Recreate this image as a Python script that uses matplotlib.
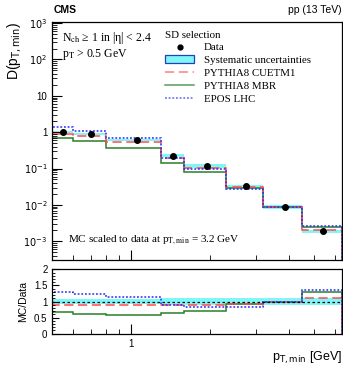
import numpy as np
import matplotlib
matplotlib.use("Agg")
import matplotlib.pyplot as plt
from matplotlib.lines import Line2D
from matplotlib.patches import Patch
from matplotlib.ticker import FixedLocator, NullFormatter, LogLocator, MultipleLocator

# bin edges in pT,min (GeV) and data points
edges = np.array([0.5, 0.6, 0.8, 1.3, 1.6, 2.3, 3.2, 4.5, 6.4])
pt_data = np.array([0.547, 0.70, 1.05, 1.45, 1.95, 2.76, 3.87, 5.41])
d_data = np.array([1.04, 0.90, 0.61, 0.224, 0.117, 0.0324, 0.0086, 0.00187])
syst = np.array([0.07, 0.07, 0.07, 0.10, 0.12, 0.12, 0.12, 0.12])

# MC / data ratios per bin
r_cuetm1 = np.array([0.88, 0.90, 0.90, 0.88, 0.89, 0.93, 1.0, 1.11])
r_mbr = np.array([0.66, 0.62, 0.59, 0.64, 0.70, 0.92, 1.0, 1.30])
r_epos = np.array([1.30, 1.22, 1.13, 0.89, 0.83, 0.82, 1.0, 1.36])

c_band = "#80f6f6"
c_red = "#ff4a4a"
c_green = "#2a7f2a"
c_blue = "#2828ff"
serif = ["Liberation Serif", "DejaVu Serif"]
sans = ["Liberation Sans", "DejaVu Sans"]

fig = plt.figure(figsize=(3.43, 3.67), dpi=100)
ax = fig.add_axes([0.1525, 0.2902, 0.8446, 0.6507])
axr = fig.add_axes([0.1525, 0.0907, 0.8446, 0.1755])

# ---- top panel
for i in range(len(d_data)):
    ax.fill_between([edges[i], edges[i + 1]], d_data[i] * (1 - syst[i]), d_data[i] * (1 + syst[i]),
                    color=c_band, lw=0)
ax.stairs(d_data * r_mbr, edges, color=c_green, lw=1.1)
ax.stairs(d_data * r_cuetm1, edges, color=c_red, lw=1.1, ls=(0, (6, 3)))
ax.stairs(d_data * r_epos, edges, color=c_blue, lw=1.1, ls=(0, (1.2, 1.2)))
ax.plot(pt_data, d_data, "o", color="black", ms=4)

ax.set_xscale("log")
ax.set_yscale("log")
ax.set_xlim(0.5, 6.4)
ax.set_ylim(10 ** -3.53, 10 ** 3.04)
ax.yaxis.set_major_locator(FixedLocator([1e-3, 1e-2, 1e-1, 1, 10, 1e2, 1e3]))
ax.set_yticklabels(["$10^{-3}$", "$10^{-2}$", "$10^{-1}$", "1", "10", "$10^{2}$", "$10^{3}$"],
                   family=sans)
ax.yaxis.set_minor_locator(LogLocator(base=10, subs=np.arange(2, 10), numticks=20))
ax.yaxis.set_minor_formatter(NullFormatter())

for a in (ax, axr):
    a.xaxis.set_major_locator(FixedLocator([1]))
    a.xaxis.set_minor_locator(FixedLocator([0.6, 0.7, 0.8, 0.9, 2, 3, 4, 5, 6]))
    a.xaxis.set_minor_formatter(NullFormatter())
    a.tick_params(which="both", direction="in", top=False, right=False, labelsize=7)
    a.tick_params(which="major", length=7, width=0.8)
    a.tick_params(which="minor", length=3.5, width=0.6)
    for s in a.spines.values():
        s.set_linewidth(0.9)
ax.tick_params(axis="x", which="major", labelbottom=False)

ax.set_ylabel("D(p$_{\\mathrm{T,min}}$)", family=sans, fontsize=10, loc="top", labelpad=0)

ax.text(0.035, 0.965, "N$_{\\mathrm{ch}}$ \u2265 1 in |\u03b7| < 2.4", transform=ax.transAxes,
        family=serif, math_fontfamily="stix", fontsize=8.5, va="top")
ax.text(0.035, 0.895, "p$_{\\mathrm{T}}$ > 0.5 GeV", transform=ax.transAxes,
        family=serif, math_fontfamily="stix", fontsize=8.5, va="top")
ax.text(0.055, 0.085, "MC scaled to data at p$_{\\mathrm{T,min}}$ = 3.2 GeV", transform=ax.transAxes,
        family=serif, math_fontfamily="stix", fontsize=8, va="center")

handles = [
    Line2D([], [], marker="o", color="black", ls="none", ms=3.5),
    Patch(facecolor=c_band, edgecolor="#2040c0", lw=0.9),
    Line2D([], [], color="#ff8080", lw=1.1, ls=(0, (6, 3))),
    Line2D([], [], color="#5a9a5a", lw=1.1),
    Line2D([], [], color="#6060ff", lw=1.1, ls=(0, (1.2, 1.2))),
]
labels = ["Data", "Systematic uncertainties", "PYTHIA8 CUETM1", "PYTHIA8 MBR", "EPOS LHC"]
leg = ax.legend(handles, labels, title="SD selection", loc="upper left",
                bbox_to_anchor=(0.385, 0.966), frameon=False, alignment="left",
                prop={"family": serif, "size": 7.8}, title_fontproperties={"family": serif, "size": 7.8},
                handlelength=2.7, handleheight=0.75, handletextpad=0.9, labelspacing=0.28,
                borderpad=0.1, borderaxespad=0)
leg._legend_box.sep = 2

fig.text(0.155, 0.972, "CMS", family=sans, fontweight="bold", fontsize=7.5, va="center")
fig.text(0.997, 0.972, "pp (13 TeV)", family=sans, fontsize=7.5, va="center", ha="right")

# ---- ratio panel
for i in range(len(syst)):
    axr.fill_between([edges[i], edges[i + 1]], 1 - syst[i], 1 + syst[i], color=c_band, lw=0)
axr.stairs(r_mbr, edges, color=c_green, lw=1.1)
axr.stairs(r_cuetm1, edges, color=c_red, lw=1.1, ls=(0, (6, 3)))
axr.stairs(r_epos, edges, color=c_blue, lw=1.1, ls=(0, (1.2, 1.2)))
axr.axhline(1, color="black", lw=0.9, ls=(0, (2, 2)))

axr.set_xscale("log")
axr.set_xlim(0.5, 6.4)
axr.xaxis.set_major_locator(FixedLocator([1]))
axr.set_xticklabels(["1"], family=sans)
axr.set_ylim(0, 2)
axr.yaxis.set_major_locator(FixedLocator([0, 0.5, 1, 1.5, 2]))
axr.set_yticklabels(["0", "0.5", "1", "1.5", "2"], family=sans)
axr.yaxis.set_minor_locator(MultipleLocator(0.1))
axr.tick_params(axis="y", which="major", length=5)
axr.tick_params(axis="y", which="minor", length=2.5)
axr.set_ylabel("MC/Data", family=sans, fontsize=7.5, labelpad=4)
axr.set_xlabel("p$_{\\mathrm{T,min}}$ [GeV]", family=sans, fontsize=9, loc="right")
axr.xaxis.set_label_coords(1.0, -0.25)

fig.savefig("out.png", dpi=100)
